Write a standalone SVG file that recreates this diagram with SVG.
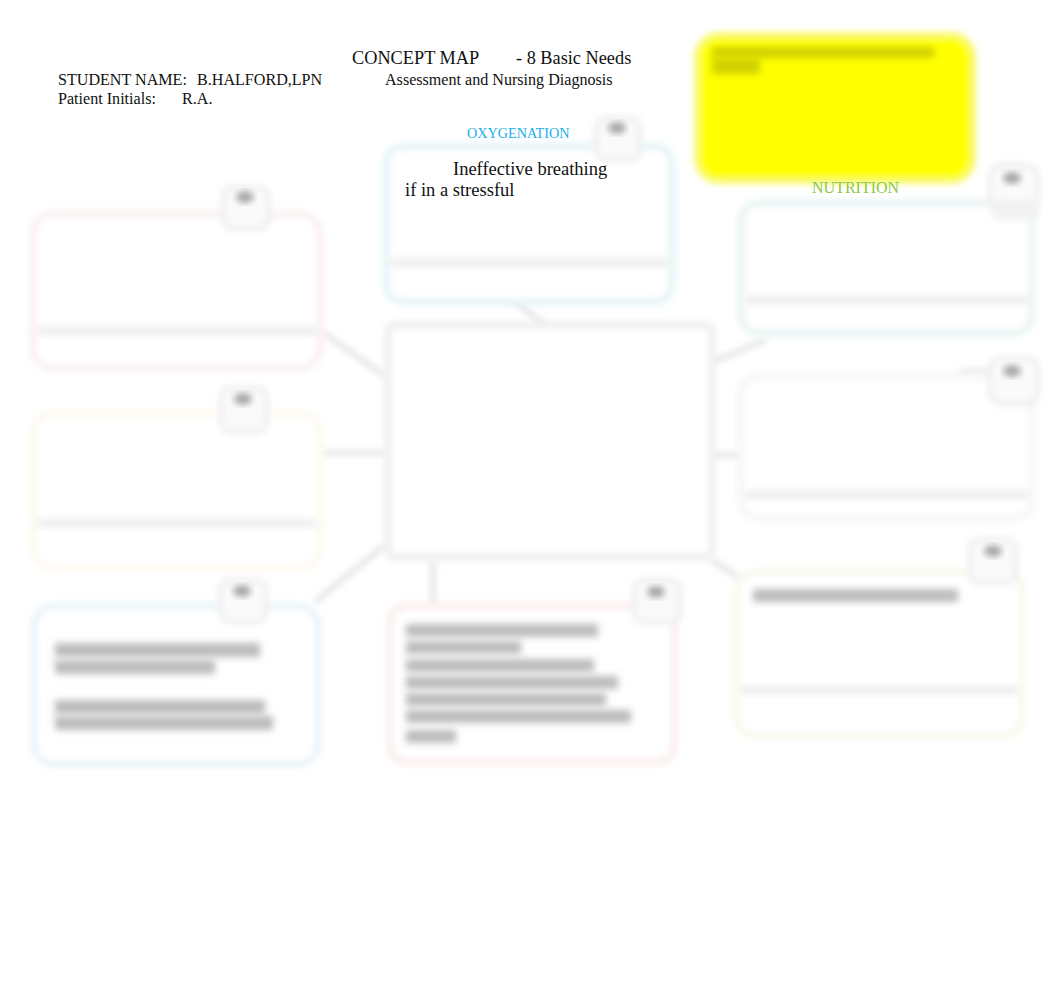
<svg xmlns="http://www.w3.org/2000/svg" width="1062" height="1006" viewBox="0 0 1062 1006">
<defs>
<filter id="b" x="-20%" y="-20%" width="140%" height="140%"><feGaussianBlur stdDeviation="3"/></filter>
<filter id="b2" x="-30%" y="-60%" width="160%" height="220%"><feGaussianBlur stdDeviation="3.5"/></filter>
<style>
.t{font-family:"Liberation Serif",serif;fill:#111}
.box{fill:#fff;stroke-width:7}
.inner{fill:#ececec}
.badge{fill:#fafafa;stroke:#ececec;stroke-width:4}
.dot{fill:#a8a8a8}
.con{stroke:#e2e2e2;stroke-width:5;fill:none}
.bar{fill:#bcbcbc}
</style>
</defs>
<rect width="1062" height="1006" fill="#fff"/>

<g id="header">
<text class="t" x="352" y="64" font-size="18.3">CONCEPT MAP</text>
<text class="t" x="516" y="64" font-size="18.3">- 8 Basic Needs</text>
<text class="t" x="58" y="85" font-size="16.1">STUDENT NAME:</text>
<text class="t" x="197" y="85" font-size="16.1">B.HALFORD,LPN</text>
<text class="t" x="385" y="85" font-size="16.1">Assessment and Nursing Diagnosis</text>
<text class="t" x="58" y="104" font-size="16.1">Patient Initials:</text>
<text class="t" x="182" y="104" font-size="16.1">R.A.</text>
</g>

<g id="connectors" filter="url(#b)">
<line class="con" x1="322" y1="332" x2="385" y2="376"/>
<line class="con" x1="322" y1="453" x2="385" y2="453"/>
<line class="con" x1="315" y1="602" x2="385" y2="545"/>
<line class="con" x1="433" y1="560" x2="433" y2="606"/>
<line class="con" x1="712" y1="560" x2="742" y2="580"/>
<line class="con" x1="712" y1="455" x2="742" y2="455"/>
<line class="con" x1="712" y1="362" x2="766" y2="340"/>
<line class="con" x1="502" y1="292" x2="545" y2="325"/>
<line class="con" x1="960" y1="372" x2="1005" y2="372"/>
</g>

<g id="note">
<rect x="697" y="35" width="276" height="146" rx="22" fill="#ffff00" stroke="#f8f870" stroke-width="6" filter="url(#b)"/>
<rect x="712" y="47" width="222" height="11" fill="#d0d000" filter="url(#b2)"/>
<rect x="712" y="58" width="48" height="16" fill="#d0d000" filter="url(#b2)"/>
</g>

<g id="center">
<rect x="388" y="325" width="324" height="232" rx="6" class="box" stroke="#eeeeee" filter="url(#b)"/>
</g>

<g id="oxygenation">
<rect x="386" y="146" width="286" height="156" rx="18" class="box" stroke="#e6f4f7" filter="url(#b)"/>
<rect class="inner" x="390" y="259" width="278" height="8" filter="url(#b2)"/>
<rect x="596" y="118" width="44" height="42" rx="10" class="badge" filter="url(#b)"/>
<ellipse cx="617" cy="128" rx="9" ry="6" class="dot" filter="url(#b)"/>
<text x="467" y="138" font-family="Liberation Serif,serif" font-size="14.2" fill="#20b0e8">OXYGENATION</text>
<text class="t" x="453" y="175" font-size="18.5">Ineffective breathing</text>
<text class="t" x="405" y="196" font-size="18.5">if in a stressful</text>
</g>

<g id="nutrition">
<rect x="741" y="203" width="291" height="130" rx="18" class="box" stroke="#eaf5f4" filter="url(#b)"/>
<rect class="inner" x="745" y="296" width="283" height="8" filter="url(#b2)"/>
<rect x="990" y="165" width="48" height="44" rx="12" class="badge" filter="url(#b)"/>
<ellipse cx="1012" cy="178" rx="9" ry="6" class="dot" filter="url(#b)"/>
<rect x="990" y="200" width="50" height="20" rx="10" fill="#f2f2f2" filter="url(#b)"/>
<text x="812" y="193" font-family="Liberation Serif,serif" font-size="16" fill="#8cc84b">NUTRITION</text>
</g>

<g id="box-top-left">
<rect x="33" y="214" width="287" height="154" rx="20" class="box" stroke="#fbf0f0" filter="url(#b)"/>
<rect class="inner" x="37" y="327" width="279" height="8" filter="url(#b2)"/>
<rect x="223" y="187" width="46" height="42" rx="10" class="badge" filter="url(#b)"/>
<ellipse cx="245" cy="197" rx="9" ry="6" class="dot" filter="url(#b)"/>
</g>

<g id="box-mid-left">
<rect x="33" y="413" width="287" height="155" rx="20" class="box" stroke="#fdfaf0" filter="url(#b)"/>
<rect class="inner" x="37" y="519" width="279" height="8" filter="url(#b2)"/>
<rect x="221" y="388" width="46" height="44" rx="10" class="badge" filter="url(#b)"/>
<ellipse cx="243" cy="399" rx="9" ry="6" class="dot" filter="url(#b)"/>
</g>

<g id="box-mid-right">
<rect x="741" y="376" width="291" height="142" rx="16" class="box" stroke="#f6f6f6" filter="url(#b)"/>
<rect class="inner" x="745" y="491" width="283" height="8" filter="url(#b2)"/>
<rect x="990" y="358" width="48" height="46" rx="12" class="badge" filter="url(#b)"/>
<ellipse cx="1012" cy="371" rx="9" ry="6" class="dot" filter="url(#b)"/>
</g>

<g id="box-bottom-left">
<rect x="34" y="606" width="284" height="158" rx="20" class="box" stroke="#eaf4f9" filter="url(#b)"/>
<rect x="220" y="580" width="46" height="42" rx="10" class="badge" filter="url(#b)"/>
<ellipse cx="242" cy="591" rx="9" ry="6" class="dot" filter="url(#b)"/>
<rect x="55" y="643" width="205" height="14" class="bar" filter="url(#b2)"/>
<rect x="55" y="660" width="160" height="14" class="bar" filter="url(#b2)"/>
<rect x="55" y="700" width="210" height="14" class="bar" filter="url(#b2)"/>
<rect x="55" y="716" width="218" height="14" class="bar" filter="url(#b2)"/>
</g>

<g id="box-bottom-mid">
<rect x="390" y="606" width="284" height="156" rx="16" class="box" stroke="#fbeeee" filter="url(#b)"/>
<rect x="634" y="580" width="46" height="42" rx="10" class="badge" filter="url(#b)"/>
<ellipse cx="656" cy="592" rx="9" ry="6" class="dot" filter="url(#b)"/>
<rect x="406" y="624" width="192" height="13" class="bar" filter="url(#b2)"/>
<rect x="406" y="641" width="115" height="13" class="bar" filter="url(#b2)"/>
<rect x="406" y="659" width="188" height="13" class="bar" filter="url(#b2)"/>
<rect x="406" y="676" width="212" height="13" class="bar" filter="url(#b2)"/>
<rect x="406" y="693" width="200" height="13" class="bar" filter="url(#b2)"/>
<rect x="406" y="710" width="225" height="13" class="bar" filter="url(#b2)"/>
<rect x="406" y="730" width="50" height="13" class="bar" filter="url(#b2)"/>
</g>

<g id="box-bottom-right">
<rect x="737" y="572" width="285" height="164" rx="18" class="box" stroke="#f9f9ee" filter="url(#b)"/>
<rect class="inner" x="741" y="686" width="277" height="8" filter="url(#b2)"/>
<rect x="970" y="539" width="46" height="44" rx="10" class="badge" filter="url(#b)"/>
<ellipse cx="993" cy="551" rx="9" ry="6" class="dot" filter="url(#b)"/>
<rect x="753" y="589" width="205" height="13" class="bar" filter="url(#b2)"/>
</g>
</svg>
